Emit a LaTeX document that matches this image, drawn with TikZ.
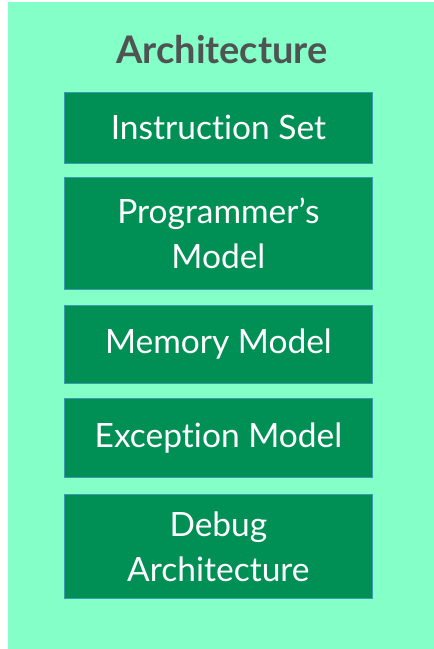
\documentclass[tikz,border=0pt]{standalone}
\usepackage{fontspec}
\setmainfont[RawFeature={-liga,-dlig}]{Lato}
\definecolor{mint}{HTML}{84FFC8}
\definecolor{boxgreen}{HTML}{008F54}
\definecolor{boxedge}{HTML}{3C9AAE}
\definecolor{titlegray}{HTML}{4F5453}
\begin{document}
\begin{tikzpicture}[x=1pt,y=-1pt,
  layer/.style={draw=boxedge, line width=0.8pt, fill=boxgreen, text=white,
    font=\fontsize{33.5}{45}\selectfont, align=center, inner sep=0pt,
    minimum width=308pt, anchor=north west},
  ttl/.style={text=titlegray, font=\fontsize{38}{44}\selectfont\bfseries}]
\useasboundingbox (0,0) rectangle (434,649);
\fill[mint] (8,2) rectangle (434,649);
\node[ttl] (title) at (222,50) {Architecture};
\node[layer, minimum height=71pt] (iset) at (64,92) {Instruction Set};
\node[layer, minimum height=112pt] (prog) at (64,177) {Programmer’s\\Model};
\node[layer, minimum height=78pt] (mem) at (64,305) {Memory Model};
\node[layer, minimum height=79pt] (exc) at (64,398) {Exception Model};
\node[layer, minimum height=104pt] (dbg) at (64,494) {Debug\\Architecture};
\end{tikzpicture}
\end{document}
